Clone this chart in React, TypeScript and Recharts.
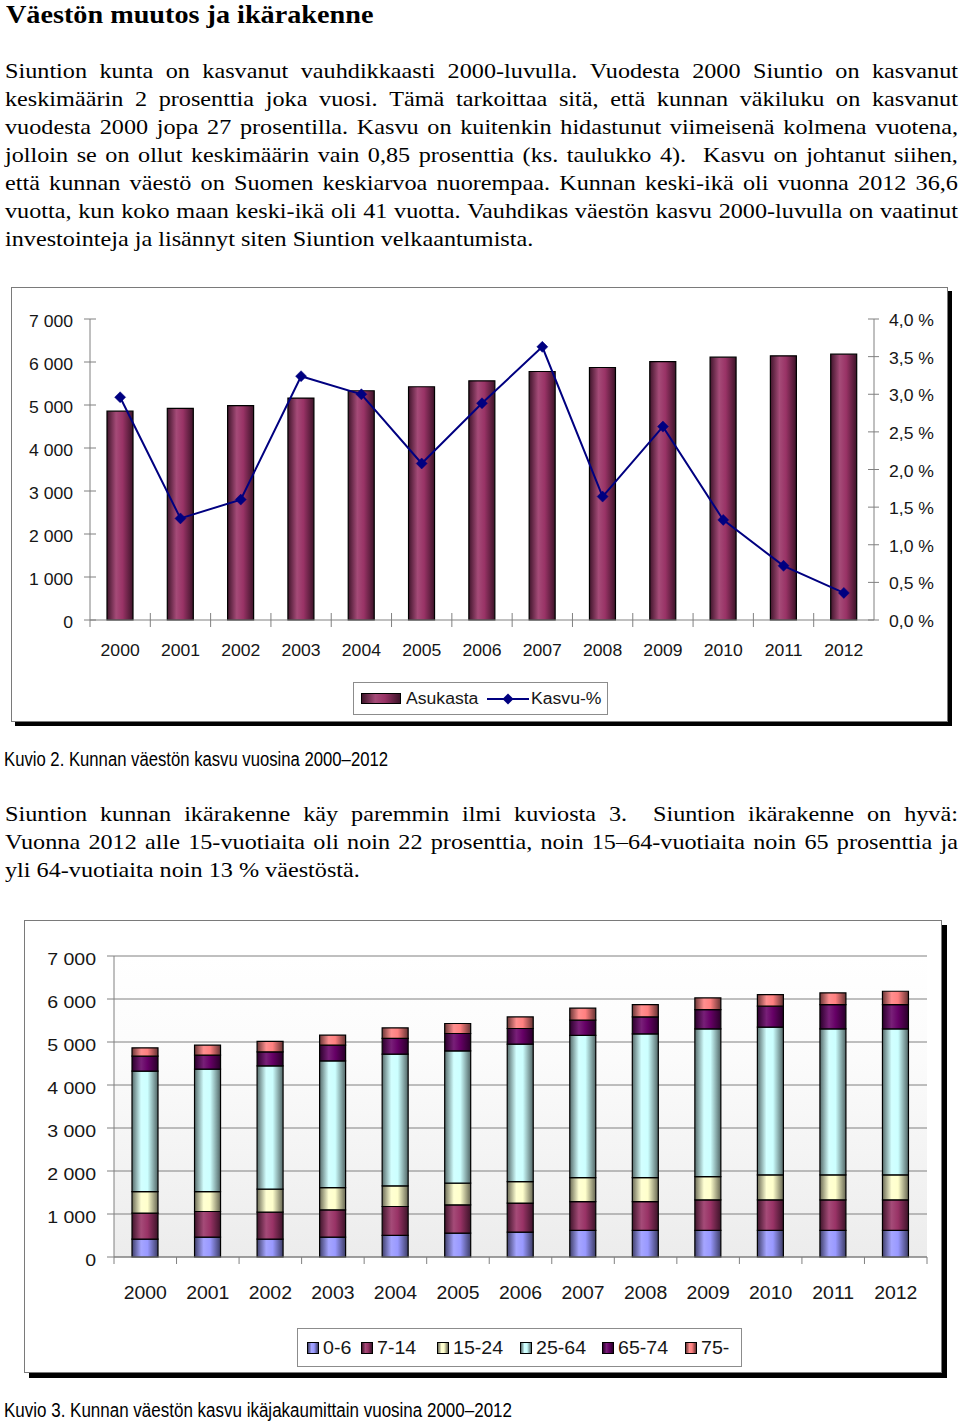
import React from 'react';
import { ComposedChart, BarChart, Bar, Line, XAxis, YAxis, CartesianGrid, Legend } from 'recharts';

// ---------- data ----------
const years = ['2000', '2001', '2002', '2003', '2004', '2005', '2006', '2007', '2008', '2009', '2010', '2011', '2012'];
const asukasta = [4856, 4921, 4984, 5162, 5331, 5424, 5563, 5779, 5872, 6011, 6112, 6143, 6182];
const kasvuPct = [2.96, 1.35, 1.6, 3.24, 3.0, 2.08, 2.88, 3.63, 1.64, 2.57, 1.33, 0.72, 0.36];
const popTicks = [0, 1000, 2000, 3000, 4000, 5000, 6000, 7000];
const pctTicks = [0, 0.5, 1, 1.5, 2, 2.5, 3, 3.5, 4];

const ageGroups = ['0-6', '7-14', '15-24', '25-64', '65-74', '75-'];
const age0to6 = [418, 464, 418, 464, 501, 557, 580, 617, 617, 617, 617, 617, 617];
const age7to14 = [603, 594, 626, 634, 673, 657, 673, 673, 673, 713, 713, 713, 713];
const age15to24 = [501, 464, 534, 517, 481, 503, 501, 557, 557, 541, 580, 580, 580];
const age25to64 = [2801, 2848, 2869, 2947, 3063, 3078, 3196, 3305, 3342, 3434, 3435, 3395, 3395];
const age65to74 = [348, 325, 324, 365, 364, 403, 364, 355, 395, 450, 487, 566, 566];
const age75plus = [194, 232, 242, 232, 246, 232, 270, 279, 287, 270, 271, 270, 309];

const para1Lines = [
  'Siuntion kunta on kasvanut vauhdikkaasti 2000-luvulla. Vuodesta 2000 Siuntio on kasvanut',
  'keskimäärin 2 prosenttia joka vuosi. Tämä tarkoittaa sitä, että kunnan väkiluku on kasvanut',
  'vuodesta 2000 jopa 27 prosentilla. Kasvu on kuitenkin hidastunut viimeisenä kolmena vuotena,',
  'jolloin se on ollut keskimäärin vain 0,85 prosenttia (ks. taulukko 4).  Kasvu on johtanut siihen,',
  'että kunnan väestö on Suomen keskiarvoa nuorempaa. Kunnan keski-ikä oli vuonna 2012 36,6',
  'vuotta, kun koko maan keski-ikä oli 41 vuotta. Vauhdikas väestön kasvu 2000-luvulla on vaatinut',
  'investointeja ja lisännyt siten Siuntion velkaantumista.',
];
const para2Lines = [
  'Siuntion kunnan ikärakenne käy paremmin ilmi kuviosta 3.  Siuntion ikärakenne on hyvä:',
  'Vuonna 2012 alle 15-vuotiaita oli noin 22 prosenttia, noin 15–64-vuotiaita noin 65 prosenttia ja',
  'yli 64-vuotiaita noin 13 % väestöstä.',
];

// ---------- tables built from the arrays ----------
const chart1Data = years.map((year, i) => ({ year, asukasta: asukasta[i], kasvu: kasvuPct[i] }));
const ageSeries = [age0to6, age7to14, age15to24, age25to64, age65to74, age75plus];
const chart2Data = years.map((year, i) => {
  const row: Record<string, any> = { year };
  ageGroups.forEach((g, j) => { row[g] = ageSeries[j][i]; });
  return row;
});

// ---------- styles ----------
const SANS = '"Liberation Sans", Arial, Helvetica, sans-serif';
const SERIF = '"Liberation Serif", "Times New Roman", serif';
const TEXT = '#161616';
const AXIS = '#808080';
const BAR1 = '#993366';
const LINE1 = '#000080';
const ageColors = ['#9999FF', '#993366', '#FFFFCC', '#CCFFFF', '#660066', '#FF8080'];

const shade = (hex: string, f: number) => {
  const n = parseInt(hex.slice(1), 16);
  const r = (n >> 16) & 255, g = (n >> 8) & 255, b = n & 255;
  const c = (v: number) => Math.max(0, Math.min(255, Math.round(f >= 1 ? v + (255 - v) * (f - 1) : v * f)));
  return `rgb(${c(r)},${c(g)},${c(b)})`;
};
const cssGrad = (c: string) =>
  `linear-gradient(to right, ${shade(c, 0.42)} 0%, ${shade(c, 1.12)} 35%, ${c} 60%, ${shade(c, 0.4)} 100%)`;

const Grad = ({ id, c }: { id: string; c: string }) => (
  <linearGradient id={id} x1="0" y1="0" x2="1" y2="0">
    <stop offset="0" stopColor={shade(c, 0.42)} />
    <stop offset="0.35" stopColor={shade(c, 1.12)} />
    <stop offset="0.6" stopColor={c} />
    <stop offset="1" stopColor={shade(c, 0.4)} />
  </linearGradient>
);

const fmtPop = (v: number) => (v >= 1000 ? `${Math.floor(v / 1000)} ${String(v % 1000).padStart(3, '0')}` : String(v));
const fmtPct = (v: number) => `${v.toFixed(1).replace('.', ',')} %`;

// layout
const PLOT1_W = 874 - 90;
const PLOT2_W = 927 - 114;

// ---------- chart 1 ticks ----------
const LeftTick1 = (props: any) => {
  const { x, y, payload } = props;
  return (
    <g>
      <line x1={x - 6} x2={x + 6} y1={y} y2={y} stroke={AXIS} />
      <text transform={`translate(${x - 17},${y + 7.5}) scale(1.1,1)`} textAnchor="end" fontSize={16} fontFamily={SANS} fill={TEXT}>
        {fmtPop(payload.value)}
      </text>
    </g>
  );
};
const RightTick1 = (props: any) => {
  const { x, y, payload } = props;
  return (
    <g>
      <line x1={x - 6} x2={x + 5} y1={y} y2={y} stroke={AXIS} />
      <text transform={`translate(${x + 15},${y + 7}) scale(1.1,1)`} textAnchor="start" fontSize={16} fontFamily={SANS} fill={TEXT}>
        {fmtPct(payload.value)}
      </text>
    </g>
  );
};
const XTick1 = (props: any) => {
  const { x, y, payload, index } = props;
  const bw = PLOT1_W / years.length;
  return (
    <g>
      {index === 0 && <line x1={x - bw / 2} x2={x - bw / 2} y1={y} y2={y + 7} stroke={AXIS} />}
      {index < years.length - 1 && <line x1={x + bw / 2} x2={x + bw / 2} y1={y - 7} y2={y + 7} stroke={AXIS} />}
      <text transform={`translate(${x},${y + 36}) scale(1.1,1)`} textAnchor="middle" fontSize={16} fontFamily={SANS} fill={TEXT}>
        {payload.value}
      </text>
    </g>
  );
};
const Diamond = (props: any) => {
  const { cx, cy } = props;
  if (cx == null || cy == null) return <g />;
  const s = 5.5;
  return <polygon points={`${cx},${cy - s} ${cx + s},${cy} ${cx},${cy + s} ${cx - s},${cy}`} fill={LINE1} stroke={LINE1} strokeWidth={0.5} />;
};

const Legend1Box = () => (
  <div style={{ position: 'relative', boxSizing: 'border-box', width: 255, height: 33, border: '1px solid #8c8c8c', background: '#fff', fontFamily: SANS, fontSize: 16, color: TEXT }}>
    <div style={{ position: 'absolute', left: 7, top: 10, width: 40, height: 11, boxSizing: 'border-box', border: '1px solid #000', background: cssGrad(BAR1) }} />
    <div style={{ position: 'absolute', left: 52, top: 6, lineHeight: '20px', transform: 'scaleX(1.1)', transformOrigin: '0 0', whiteSpace: 'nowrap' }}>Asukasta</div>
    <svg style={{ position: 'absolute', left: 133, top: 9 }} width={42} height={14}>
      <line x1={0} x2={42} y1={7} y2={7} stroke={LINE1} strokeWidth={2} />
      <polygon points="21,1.5 26.5,7 21,12.5 15.5,7" fill={LINE1} />
    </svg>
    <div style={{ position: 'absolute', left: 177, top: 6, lineHeight: '20px', transform: 'scaleX(1.1)', transformOrigin: '0 0', whiteSpace: 'nowrap' }}>Kasvu-%</div>
  </div>
);

// ---------- chart 2 ticks ----------
const LeftTick2 = (props: any) => {
  const { x, y, payload } = props;
  return (
    <g>
      <line x1={x - 7} x2={x} y1={y} y2={y} stroke={AXIS} />
      <text transform={`translate(${x - 18},${y + 9}) scale(1.15,1)`} textAnchor="end" fontSize={17} fontFamily={SANS} fill={TEXT}>
        {fmtPop(payload.value)}
      </text>
    </g>
  );
};
const XTick2 = (props: any) => {
  const { x, y, payload, index } = props;
  const bw = PLOT2_W / years.length;
  return (
    <g>
      <line x1={x - bw / 2} x2={x - bw / 2} y1={y} y2={y + 7} stroke={AXIS} />
      {index === years.length - 1 && <line x1={x + bw / 2} x2={x + bw / 2} y1={y} y2={y + 7} stroke={AXIS} />}
      <text transform={`translate(${x},${y + 42}) scale(1.05,1)`} textAnchor="middle" fontSize={18.5} fontFamily={SANS} fill={TEXT}>
        {payload.value}
      </text>
    </g>
  );
};
const legend2Swatch = [9, 63, 139, 222, 304, 387];
const Legend2Box = () => (
  <div style={{ position: 'relative', boxSizing: 'border-box', width: 445, height: 39, border: '1px solid #8c8c8c', background: '#fff', fontFamily: SANS, fontSize: 18, color: TEXT }}>
    {ageGroups.map((g, j) => (
      <React.Fragment key={g}>
        <div style={{ position: 'absolute', left: legend2Swatch[j], top: 13, width: 12, height: 12, boxSizing: 'border-box', border: '1px solid #000', background: cssGrad(ageColors[j]) }} />
        <div style={{ position: 'absolute', left: legend2Swatch[j] + 16, top: 8, lineHeight: '22px', transform: 'scaleX(1.09)', transformOrigin: '0 0', whiteSpace: 'nowrap' }}>{g}</div>
      </React.Fragment>
    ))}
  </div>
);

// ---------- text blocks ----------
const Paragraph = ({ lines, top }: { lines: string[]; top: number }) => (
  <div style={{ position: 'absolute', left: 5, top, width: 953 / 1.1, transform: 'scaleX(1.1)', transformOrigin: '0 0', fontFamily: SERIF, fontSize: 22, lineHeight: '28px', color: '#000' }}>
    {lines.map((line, i) =>
      i < lines.length - 1 ? (
        <div key={i} style={{ display: 'flex', justifyContent: 'space-between', whiteSpace: 'nowrap' }}>
          {line.split(' ').map((w, k) => <span key={k}>{w}</span>)}
        </div>
      ) : (
        <div key={i} style={{ whiteSpace: 'nowrap' }}>{line}</div>
      )
    )}
  </div>
);

const Caption = ({ text, top, baseline, width, size }: { text: string; top: number; baseline: number; width: number; size: number }) => (
  <svg style={{ position: 'absolute', left: 0, top }} width={960} height={34}>
    <text x={4} y={baseline} fontFamily={SANS} fontSize={size} textLength={width} lengthAdjust="spacingAndGlyphs" fill="#000">{text}</text>
  </svg>
);

export default function App() {
  return (
    <div style={{ position: 'absolute', left: 0, top: 0, width: 960, height: 1424, overflow: 'hidden', background: '#fff' }}>
      <div style={{ position: 'absolute', left: 6, top: 1.5, fontFamily: SERIF, fontWeight: 'bold', fontSize: 25, lineHeight: '25px', transform: 'scaleX(1.128)', transformOrigin: '0 0', whiteSpace: 'nowrap', color: '#000' }}>
        Väestön muutos ja ikärakenne
      </div>
      <Paragraph lines={para1Lines} top={56.6} />

      {/* Chart 1 */}
      <div style={{ position: 'absolute', left: 11, top: 287, width: 937, height: 435, boxSizing: 'border-box', border: '1px solid #7a7a7a', boxShadow: '4px 4px 0 #000', background: '#fff' }} />
      <div style={{ position: 'absolute', left: 0, top: 287 }}>
        <ComposedChart width={960} height={435} data={chart1Data} margin={{ top: 32, right: 16, bottom: 52, left: 30 }}>
          <defs>
            <Grad id="bar1grad" c={BAR1} />
          </defs>
          <XAxis dataKey="year" height={50} interval={0} tickSize={0} tickMargin={0} tickLine={false} axisLine={{ stroke: AXIS }} tick={<XTick1 />} />
          <YAxis yAxisId="left" width={60} domain={[0, 7000]} ticks={popTicks} interval={0} tickSize={0} tickMargin={0} tickLine={false} axisLine={{ stroke: AXIS }} tick={<LeftTick1 />} />
          <YAxis yAxisId="right" orientation="right" width={70} domain={[0, 4]} ticks={pctTicks} interval={0} tickSize={0} tickMargin={0} tickLine={false} axisLine={{ stroke: AXIS }} tick={<RightTick1 />} />
          <Bar yAxisId="left" dataKey="asukasta" name="Asukasta" barSize={26} fill="url(#bar1grad)" stroke="#000" strokeWidth={1.2} isAnimationActive={false} />
          <Line yAxisId="right" dataKey="kasvu" name="Kasvu-%" stroke={LINE1} strokeWidth={2} dot={<Diamond />} activeDot={false} isAnimationActive={false} />
          <Legend layout="vertical" align="center" verticalAlign="middle" width={255} height={33} wrapperStyle={{ left: 353, top: 395, width: 255, height: 33 }} content={() => <Legend1Box />} />
        </ComposedChart>
      </div>

      <Caption text="Kuvio 2. Kunnan väestön kasvu vuosina 2000–2012" top={740} baseline={26} width={384} size={20} />
      <Paragraph lines={para2Lines} top={799.6} />

      {/* Chart 2 */}
      <div style={{ position: 'absolute', left: 24, top: 920, width: 918, height: 453, boxSizing: 'border-box', border: '1px solid #7a7a7a', boxShadow: '5px 5px 0 #000', background: '#fff' }} />
      <div style={{ position: 'absolute', left: 0, top: 920 }}>
        <BarChart width={960} height={453} data={chart2Data} margin={{ top: 36, right: 33, bottom: 66, left: 20 }}>
          <defs>
            <linearGradient id="plotBg" x1="0" y1="0" x2="0" y2="1">
              <stop offset="0" stopColor="#ffffff" />
              <stop offset="0.35" stopColor="#fbfbfb" />
              <stop offset="1" stopColor="#ececec" />
            </linearGradient>
            {ageColors.map((c, j) => <Grad key={j} id={`ageGrad${j}`} c={c} />)}
          </defs>
          <CartesianGrid vertical={false} stroke={AXIS} fill="url(#plotBg)" fillOpacity={1} />
          <XAxis dataKey="year" height={50} interval={0} tickSize={0} tickMargin={0} tickLine={false} axisLine={{ stroke: AXIS }} tick={<XTick2 />} />
          <YAxis width={94} domain={[0, 7000]} ticks={popTicks} interval={0} tickSize={0} tickMargin={0} tickLine={false} axisLine={{ stroke: AXIS }} tick={<LeftTick2 />} />
          <YAxis yAxisId="r" orientation="right" width={0} tick={false} tickLine={false} axisLine={{ stroke: AXIS }} />
          {ageGroups.map((g, j) => (
            <Bar key={g} dataKey={g} name={g} stackId="age" barSize={26} fill={`url(#ageGrad${j})`} stroke="#000" strokeWidth={1.2} isAnimationActive={false} />
          ))}
          <Legend layout="vertical" align="center" verticalAlign="middle" width={445} height={39} wrapperStyle={{ left: 297, top: 408, width: 445, height: 39 }} content={() => <Legend2Box />} />
        </BarChart>
      </div>

      <Caption text="Kuvio 3. Kunnan väestön kasvu ikäjakaumittain vuosina 2000–2012" top={1390} baseline={26.7} width={508} size={19.5} />
    </div>
  );
}
